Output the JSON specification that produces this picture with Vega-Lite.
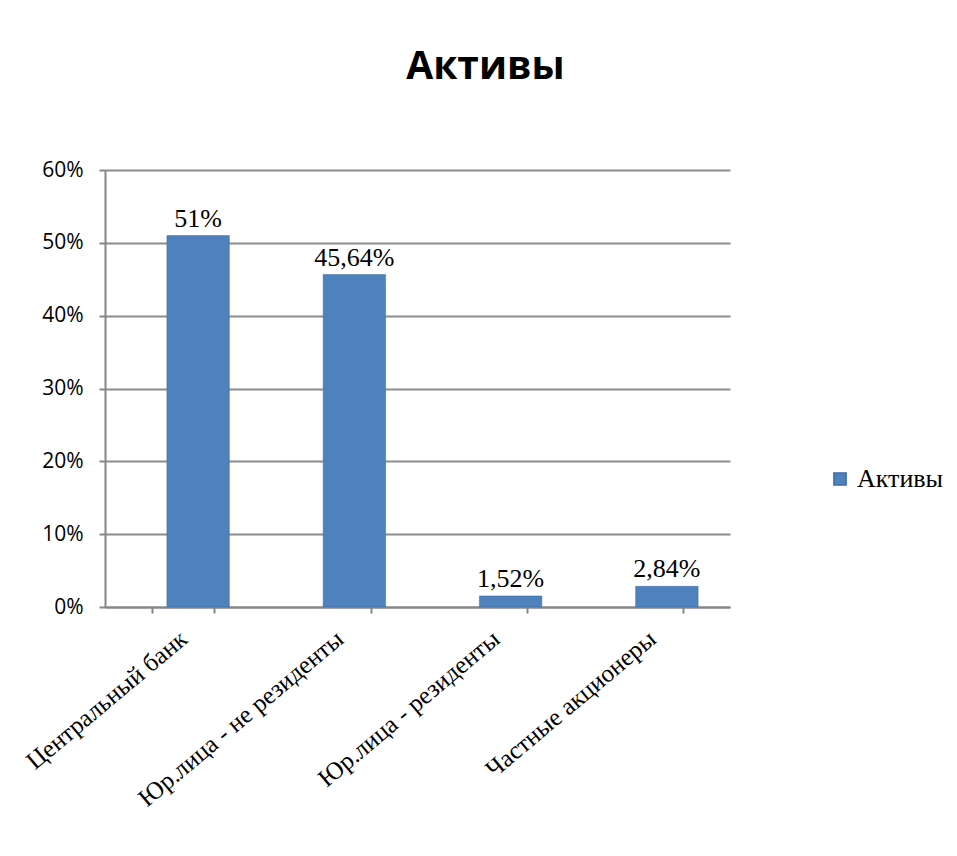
{
  "$schema": "https://vega.github.io/schema/vega-lite/v6.json",
  "width": 625,
  "height": 437,
  "autosize": {"type": "none"},
  "padding": {"left": 105, "top": 170, "right": 227, "bottom": 249},
  "background": "white",
  "title": {
    "text": "Активы",
    "font": "Open Sans",
    "fontSize": 39,
    "fontWeight": "bold",
    "color": "black",
    "anchor": "middle",
    "dx": 68,
    "offset": 72
  },
  "data": {
    "values": [
      {"category": "Центральный банк", "value": 0.51, "label": "51%", "series": "Активы"},
      {"category": "Юр.лица - не резиденты", "value": 0.4564, "label": "45,64%", "series": "Активы"},
      {"category": "Юр.лица - резиденты", "value": 0.0152, "label": "1,52%", "series": "Активы"},
      {"category": "Частные акционеры", "value": 0.0284, "label": "2,84%", "series": "Активы"}
    ]
  },
  "encoding": {
    "x": {
      "field": "category",
      "type": "nominal",
      "sort": null,
      "scale": {"paddingInner": 0.6, "paddingOuter": 0.3},
      "axis": {
        "title": null,
        "labelAngle": -40,
        "labelAlign": "right",
        "labelBaseline": "middle",
        "labelFont": "Liberation Serif",
        "labelFontSize": 25,
        "labelColor": "black",
        "labelPadding": 22,
        "labelLimit": 0,
        "labelOverlap": false,
        "domainColor": "#868686",
        "domainWidth": 2,
        "tickColor": "#868686",
        "tickWidth": 2,
        "tickSize": 6,
        "tickBand": "extent",
        "grid": false
      }
    },
    "y": {
      "field": "value",
      "type": "quantitative",
      "scale": {"domain": [0, 0.6], "nice": false},
      "axis": {
        "title": null,
        "format": ".0%",
        "values": [0, 0.1, 0.2, 0.3, 0.4, 0.5, 0.6],
        "labelOverlap": false,
        "labelFont": "Open Sans",
        "labelFontSize": 21,
        "labelColor": "black",
        "labelPadding": 16,
        "domainColor": "#868686",
        "domainWidth": 2,
        "tickColor": "#868686",
        "tickWidth": 2,
        "tickSize": 6,
        "grid": true,
        "gridColor": "#8c8c8c",
        "gridWidth": 2
      }
    }
  },
  "layer": [
    {
      "mark": {"type": "bar", "stroke": "#3f6ea6", "strokeWidth": 0.5, "xOffset": 15},
      "encoding": {
        "color": {
          "field": "series",
          "type": "nominal",
          "scale": {"range": ["#4F81BD"]},
          "legend": {
            "title": null,
            "orient": "none",
            "legendX": 722,
            "legendY": 296,
            "symbolType": "square",
            "symbolSize": 150,
            "labelFont": "Liberation Serif",
            "labelFontSize": 26,
            "labelColor": "black"
          }
        }
      }
    },
    {
      "mark": {"type": "text", "baseline": "bottom", "dy": -4, "dx": 15, "font": "Liberation Serif", "fontSize": 26, "color": "black"},
      "encoding": {"text": {"field": "label"}}
    }
  ],
  "config": {"view": {"stroke": null}}
}
